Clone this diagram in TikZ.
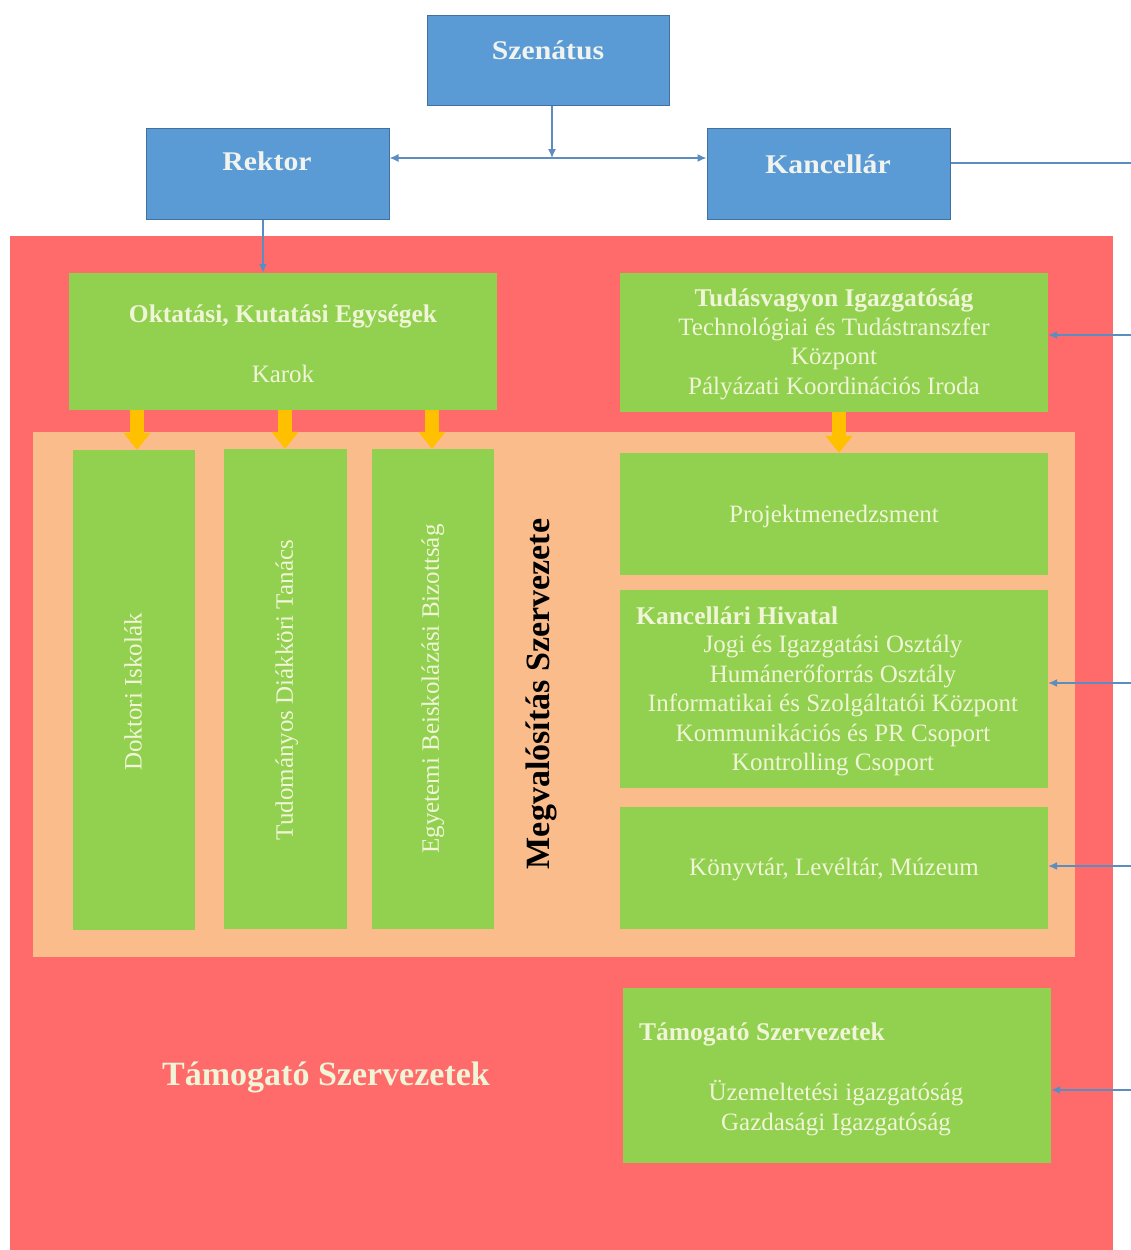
\documentclass[tikz,border=0pt]{standalone}
\usepackage{fontspec}
\setmainfont{Liberation Serif}
\newfontfamily\titlefont{Liberation Serif}[FakeStretch=1.1]
\usetikzlibrary{arrows.meta}
\definecolor{bluefill}{RGB}{91,155,213}
\definecolor{blueedge}{RGB}{65,113,156}
\definecolor{conncol}{RGB}{91,141,192}
\definecolor{redbg}{RGB}{255,107,107}
\definecolor{peach}{RGB}{250,188,138}
\definecolor{greenfill}{RGB}{146,208,80}
\definecolor{arrowor}{RGB}{255,192,0}
\definecolor{cream}{RGB}{240,245,215}
\definecolor{bluetxt}{RGB}{240,243,238}
\begin{document}
\begin{tikzpicture}[x=1pt,y=-1pt,
  bluebx/.style={draw=blueedge, line width=1pt, fill=bluefill, minimum width=243pt, minimum height=91pt, inner sep=0pt},
  greenbx/.style={fill=greenfill, inner sep=0pt},
  bluetitle/.style={text=bluetxt, font=\titlefont\bfseries\fontsize{27}{30}\selectfont, inner sep=0pt},
  txt/.style={text=cream, font=\fontsize{25}{29.5}\selectfont, align=center, inner sep=0pt},
  btxt/.style={text=cream, font=\bfseries\fontsize{25.5}{29.5}\selectfont, align=center, inner sep=0pt},
  conn/.style={draw=conncol, line width=1.4pt},
  tip/.style={-{Latex[length=9pt,width=8pt]}},
  twotip/.style={{Latex[length=9pt,width=8pt]}-{Latex[length=9pt,width=8pt]}},
  orarrow/.style={draw=arrowor, line width=14pt, -{Triangle[width=26pt,length=17pt]}}
]
\useasboundingbox (0,0) rectangle (1131,1250);

% backgrounds
\fill[redbg] (10,236) rectangle (1113,1250);
\fill[peach] (33,432) rectangle (1075,957);

% top boxes
\node[bluebx, minimum width=242pt, minimum height=90pt] (sen) at (548,60) {};
\node[bluetitle] (sent) at (548,50) {Szenátus};
\node[bluebx] (rek) at (267.5,173.5) {};
\node[bluetitle] (rekt) at (267,161) {Rektor};
\node[bluebx] (kan) at (828.5,173.5) {};
\node[bluetitle] (kant) at (828,164) {Kancellár};

% green boxes
\node[greenbx, minimum width=428pt, minimum height=137pt] (okt) at (283,341.5) {};
\node[btxt] (oktt) at (283,316) {Oktatási, Kutatási Egységek};
\node[txt] (karok) at (283,374) {Karok};

\node[greenbx, minimum width=428pt, minimum height=139pt] (tud) at (834,342.5) {};
\node[txt] (tudt) at (834,344) {\bfseries\fontsize{25.5}{29}\selectfont Tudásvagyon Igazgatóság\\[-0.5pt]
  Technológiai és Tudástranszfer\\ Központ\\ Pályázati Koordinációs Iroda};

\node[greenbx, minimum width=122pt, minimum height=480pt] (dok) at (134,690) {};
\node[txt, rotate=90] (dokt) at (133,692) {Doktori Iskolák};
\node[greenbx, minimum width=123pt, minimum height=480pt] (tdk) at (285.5,689) {};
\node[txt, rotate=90] (tdkt) at (287,690) {Tudományos Diákköri Tanács};
\node[greenbx, minimum width=122pt, minimum height=480pt] (ebb) at (433,689) {};
\node[txt, rotate=90] (ebbt) at (433,689) {Egyetemi Beiskolázási Bizottság};

\node[rotate=90, font=\bfseries\fontsize{34}{36}\selectfont, text=black, inner sep=0pt] (megv) at (541,694) {Megvalósítás Szervezete};

\node[greenbx, minimum width=428pt, minimum height=122pt] (proj) at (834,514) {};
\node[txt] (projt) at (834,516) {Projektmenedzsment};

\node[greenbx, minimum width=428pt, minimum height=198pt] (kh) at (834,689) {};
\node[btxt, anchor=west] (kht) at (636,616) {Kancellári Hivatal};
\node[txt] (khl) at (833,705.5) {Jogi és Igazgatási Osztály\\ Humánerőforrás Osztály\\ Informatikai és Szolgáltatói Központ\\ Kommunikációs és PR Csoport\\ Kontrolling Csoport};

\node[greenbx, minimum width=428pt, minimum height=122pt] (kvt) at (834,868) {};
\node[txt] (kvtt) at (834,869) {Könyvtár, Levéltár, Múzeum};

\node[greenbx, minimum width=428pt, minimum height=175pt] (tam) at (837,1075.5) {};
\node[btxt, anchor=west] (tamt) at (639,1034) {Támogató Szervezetek};
\node[txt] (taml) at (836,1108) {Üzemeltetési igazgatóság\\ Gazdasági Igazgatóság};

\node[text=cream, font=\bfseries\fontsize{34}{38}\selectfont, inner sep=0pt] (tambig) at (326,1077) {Támogató Szervezetek};

% blue connectors
\coordinate (j) at (552,158);
\draw[conn, tip] (sen.south -| j) -- (j);
\draw[conn, twotip] (rek.east |- j) -- (kan.west |- j);
\coordinate (r0) at (1131,163);
\draw[conn] (kan.east |- r0) -- (r0);
\draw[conn, tip] (rek.south -| 263,0) -- (okt.north -| 263,0);
\coordinate (r1) at (1131,335);
\coordinate (r2) at (1131,683);
\coordinate (r3) at (1131,866);
\coordinate (r4) at (1131,1090);
\draw[conn, tip] (r1) -- (tud.east |- r1);
\draw[conn, tip] (r2) -- (kh.east |- r2);
\draw[conn, tip] (r3) -- (kvt.east |- r3);
\draw[conn, tip] (r4) -- (tam.east |- r4);

% orange arrows
\draw[orarrow] (okt.south -| 137,0) -- (dok.north -| 137,0);
\draw[orarrow] (okt.south -| 285,0) -- (tdk.north -| 285,0);
\draw[orarrow] (okt.south -| 432,0) -- (ebb.north -| 432,0);
\draw[orarrow] (tud.south -| 839,0) -- (proj.north -| 839,0);
\end{tikzpicture}
\end{document}
